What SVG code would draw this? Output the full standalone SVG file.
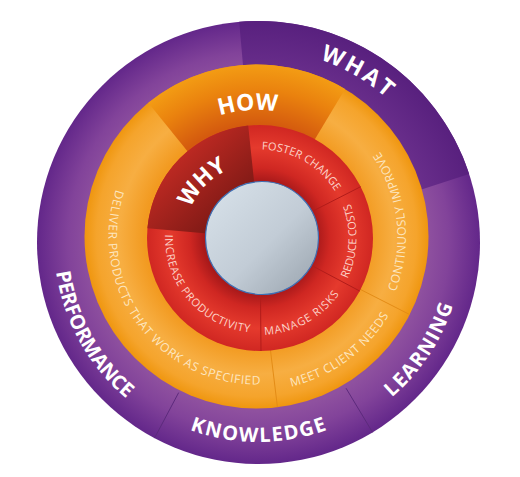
<svg xmlns="http://www.w3.org/2000/svg" width="520" height="477" viewBox="0 0 520 477">
<style>
.big{font-family:"Open Sans","Liberation Sans",sans-serif;font-weight:700;fill:#ffffff;}
.sm{font-family:"Open Sans","Liberation Sans",sans-serif;font-weight:400;}
.on-o{fill:#fde6c0;font-size:12px;}
.on-r{fill:#fbd3ca;font-size:11px;}
.divp{stroke:#5c2a7c;stroke-width:1;}
.divo{stroke:#e48c16;stroke-width:1;}
.divr{stroke:#b21c1a;stroke-width:1;}
</style>
<defs>
<radialGradient id="gPurple" gradientUnits="userSpaceOnUse" cx="258.5" cy="242.5" r="221.5">
<stop offset="0.76" stop-color="#8f519f"/>
<stop offset="0.86" stop-color="#82439a"/>
<stop offset="1" stop-color="#63278a"/>
</radialGradient>
<radialGradient id="gWhat" gradientUnits="userSpaceOnUse" cx="258.5" cy="242.5" r="221.5">
<stop offset="0.76" stop-color="#6a2f8c"/>
<stop offset="1" stop-color="#58207e"/>
</radialGradient>
<radialGradient id="gOrange" gradientUnits="userSpaceOnUse" cx="256.5" cy="236.5" r="172">
<stop offset="0.65" stop-color="#f29a20"/>
<stop offset="0.8" stop-color="#f7ae42"/>
<stop offset="0.93" stop-color="#f5a42c"/>
<stop offset="1" stop-color="#ef960f"/>
</radialGradient>
<radialGradient id="gHow" gradientUnits="userSpaceOnUse" cx="256.5" cy="236.5" r="172">
<stop offset="0.65" stop-color="#d45a0e"/>
<stop offset="0.85" stop-color="#ea820e"/>
<stop offset="1" stop-color="#f39c14"/>
</radialGradient>
<radialGradient id="gRed" gradientUnits="userSpaceOnUse" cx="260" cy="238" r="113">
<stop offset="0.5" stop-color="#a8191a"/>
<stop offset="0.62" stop-color="#cf2722"/>
<stop offset="0.8" stop-color="#e53a2d"/>
<stop offset="1" stop-color="#d02722"/>
</radialGradient>
<linearGradient id="gWhy" gradientUnits="userSpaceOnUse" x1="165" y1="140" x2="250" y2="228">
<stop offset="0" stop-color="#cf2e26"/>
<stop offset="1" stop-color="#6a1411"/>
</linearGradient>
<linearGradient id="gCore" x1="0" y1="0" x2="1" y2="1">
<stop offset="0" stop-color="#d9e3eb"/>
<stop offset="0.55" stop-color="#c2ccd6"/>
<stop offset="1" stop-color="#97a1ab"/>
</linearGradient>
<path id="pWhat" d="M192.49 61.14 A193 193 0 0 1 448.57 208.99"/>
<path id="pPerf" d="M83.20 137.18 A204.5 204.5 0 0 0 254.93 446.97"/>
<path id="pKnow" d="M85.73 342.25 A199.5 199.5 0 0 0 431.27 342.25"/>
<path id="pLearn" d="M245.66 446.59 A204.5 204.5 0 0 0 441.67 151.58"/>
<path id="pHow" d="M154.41 161.79 A126.5 126.5 0 0 1 347.81 148.95"/>
<path id="pCont" d="M345.30 356.77 A149.5 149.5 0 0 0 316.24 99.45"/>
<path id="pMeet" d="M194.11 377.30 A154 154 0 0 0 409.62 220.13"/>
<path id="pDeliver" d="M149.14 134.62 A148 148 0 0 0 322.54 368.95"/>
<path id="pWhy" d="M184.91 245.89 A75.5 75.5 0 0 1 265.27 162.68"/>
<path id="pFoster" d="M229.30 155.00 A88.5 88.5 0 0 1 347.07 222.18"/>
<path id="pReduce" d="M319.41 314.04 A96.5 96.5 0 0 0 324.57 166.29"/>
<path id="pManage" d="M224.60 328.32 A97 97 0 0 0 355.09 257.18"/>
<path id="pIncrease" d="M166.21 222.89 A95 95 0 0 0 261.41 332.99"/>
</defs>

<g id="ring-what">
<circle cx="258.5" cy="242.5" r="221.5" fill="url(#gPurple)"/>
<path d="M258.5 242.5 L469.17 174.05 A221.5 221.5 0 0 0 239.19 21.84 Z" fill="url(#gWhat)"/>
<line class="divp" x1="178.68" y1="392.59" x2="154.5" y2="438.1"/>
<line class="divp" x1="346.05" y1="388.22" x2="372.58" y2="432.37"/>
</g>
<g id="what-labels">
<text class="big" font-size="23"><textPath href="#pWhat" startOffset="50%" text-anchor="middle" textLength="77">WHAT</textPath></text>
<text class="big" font-size="20"><textPath href="#pPerf" startOffset="50%" text-anchor="middle" textLength="148">PERFORMANCE</textPath></text>
<text class="big" font-size="20"><textPath href="#pKnow" startOffset="50%" text-anchor="middle" textLength="140">KNOWLEDGE</textPath></text>
<text class="big" font-size="20"><textPath href="#pLearn" startOffset="50%" text-anchor="middle" textLength="112">LEARNING</textPath></text>
</g>

<g id="ring-how">
<circle cx="256.5" cy="236.5" r="172" fill="url(#gOrange)"/>
<path d="M256.5 236.5 L345.08 89.06 A172 172 0 0 0 148.26 102.84 Z" fill="url(#gHow)"/>
<line class="divo" x1="345.6" y1="281.9" x2="409.75" y2="314.59"/>
<line class="divo" x1="268.69" y1="335.75" x2="277.46" y2="407.21"/>
</g>
<g id="how-labels">
<text class="big" font-size="23"><textPath href="#pHow" startOffset="50%" text-anchor="middle" textLength="58">HOW</textPath></text>
<text class="sm on-o"><textPath href="#pCont" startOffset="50%" text-anchor="middle" textLength="147">CONTINUOSLY IMPROVE</textPath></text>
<text class="sm on-o"><textPath href="#pMeet" startOffset="50%" text-anchor="middle" textLength="124">MEET CLIENT NEEDS</textPath></text>
<text class="sm on-o"><textPath href="#pDeliver" startOffset="50%" text-anchor="middle" textLength="284">DELIVER PRODUCTS THAT WORK AS SPECIFIED</textPath></text>
</g>

<g id="ring-why">
<circle cx="260" cy="238" r="113" fill="url(#gRed)"/>
<path d="M260 238 L248.19 125.62 A113 113 0 0 0 147.43 228.15 Z" fill="url(#gWhy)"/>
<line class="divr" x1="304.55" y1="215.3" x2="360.68" y2="186.70"/>
<line class="divr" x1="304.15" y1="261.48" x2="359.77" y2="291.05"/>
<line class="divr" x1="260.44" y1="288" x2="260.99" y2="351.0"/>
</g>
<g id="why-labels">
<text class="big" font-size="23"><textPath href="#pWhy" startOffset="50%" text-anchor="middle" textLength="54">WHY</textPath></text>
<text class="sm on-r"><textPath href="#pFoster" startOffset="50%" text-anchor="middle" textLength="88">FOSTER CHANGE</textPath></text>
<text class="sm on-r"><textPath href="#pReduce" startOffset="50%" text-anchor="middle" textLength="77">REDUCE COSTS</textPath></text>
<text class="sm on-r"><textPath href="#pManage" startOffset="50%" text-anchor="middle" textLength="88">MANAGE RISKS</textPath></text>
<text class="sm on-r"><textPath href="#pIncrease" startOffset="50%" text-anchor="middle" textLength="142">INCREASE PRODUCTIVITY</textPath></text>
</g>

<g id="core">
<circle cx="262" cy="238" r="56.5" fill="url(#gCore)" stroke="#3f6fb3" stroke-width="1.2"/>
</g>
</svg>
